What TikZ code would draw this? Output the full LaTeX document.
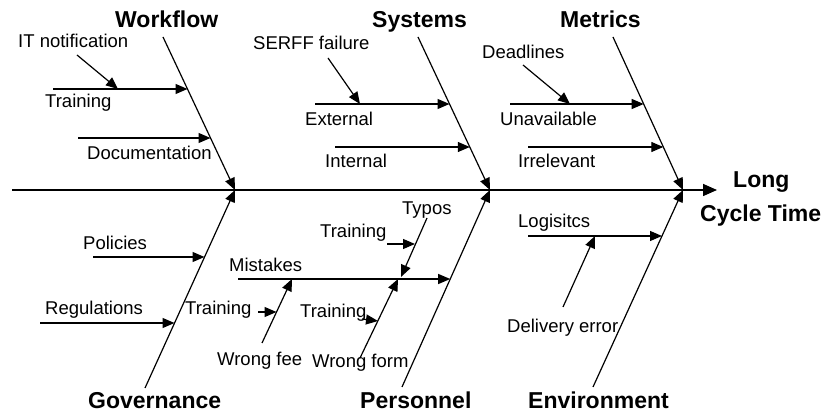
\documentclass[tikz,border=0pt]{standalone}
\usepackage{fontspec}
\setmainfont{Liberation Sans}
\usetikzlibrary{arrows.meta}
\tikzset{
  lab/.style={font=\fontsize{18.5}{20}\selectfont, inner sep=0pt, anchor=base west},
  ttl/.style={font=\fontsize{23}{25}\selectfont\bfseries, inner sep=0pt, anchor=base west},
  bone/.style={line width=1.2pt, -{Triangle[length=12pt,width=10pt]}},
  spine/.style={line width=1.6pt, -{Triangle[length=14pt,width=12pt]}},
}
\begin{document}
\begin{tikzpicture}[x=1pt,y=-1pt]
\useasboundingbox[fill=white] (0,0) rectangle (836,414);
% coordinates
\coordinate (s0) at (12,190);   \coordinate (s1) at (717,190);
\coordinate (wA) at (163,37);   \coordinate (wB) at (235,190);
\coordinate (yA) at (418,37);   \coordinate (yB) at (490,190);
\coordinate (mA) at (613,37);   \coordinate (mB) at (683,190);
\coordinate (gA) at (145,388);  \coordinate (gB) at (235,190);
\coordinate (pA) at (402,387);  \coordinate (pB) at (490,190);
\coordinate (eA) at (593,387);  \coordinate (eB) at (683,190);
% sub causes
\coordinate (trA) at (53,89);   \coordinate (trB) at (187.5,89);
\coordinate (doA) at (78,138);  \coordinate (doB) at (210.5,138);
\coordinate (exA) at (315,104); \coordinate (exB) at (449.5,104);
\coordinate (inA) at (335,147); \coordinate (inB) at (469.8,147);
\coordinate (unA) at (510,104); \coordinate (unB) at (643.7,104);
\coordinate (irA) at (528,147); \coordinate (irB) at (663.3,147);
\coordinate (poA) at (93,257);  \coordinate (poB) at (204.5,257);
\coordinate (reA) at (40,323);  \coordinate (reB) at (174.5,323);
\coordinate (miA) at (238,279); \coordinate (miB) at (450.2,279);
\coordinate (loA) at (528,236); \coordinate (loB) at (662,236);
% sub-sub causes
\coordinate (itA) at (77,55);   \coordinate (itB) at (118,89);
\coordinate (seA) at (328,58);  \coordinate (seB) at (360,104);
\coordinate (deA) at (523,65);  \coordinate (deB) at (570,104);
\coordinate (dlA) at (563,307); \coordinate (dlB) at (595,236);
\coordinate (wfA) at (262,343); \coordinate (wfB) at (292,279);
\coordinate (wmA) at (360,358); \coordinate (wmB) at (398,279);
\coordinate (tyA) at (427,218); \coordinate (tyB) at (401,277);
\coordinate (t1A) at (258,312); \coordinate (t1B) at (276.5,312);
\coordinate (t2A) at (362,319); \coordinate (t2B) at (378,321);
\coordinate (t3A) at (387,244); \coordinate (t3B) at (415,244);

% spine and bones
\draw[spine] (s0) -- (s1);
\draw[bone] (wA) -- (wB);
\draw[bone] (yA) -- (yB);
\draw[bone] (mA) -- (mB);
\draw[bone] (gA) -- (gB);
\draw[bone] (pA) -- (pB);
\draw[bone] (eA) -- (eB);
\foreach \p in {tr,do,ex,in,un,ir,po,re,mi,lo,it,se,de,dl,wf,wm,ty,t1,t2,t3}
  \draw[bone] (\p A) -- (\p B);

% titles
\node[ttl] (nWork) at (115,28) {Workflow};
\node[ttl] (nSys)  at (372,28) {Systems};
\node[ttl] (nMet)  at (560,28) {Metrics};
\node[ttl] (nGov)  at (88,408) {Governance};
\node[ttl] (nPer)  at (360,408) {Personnel};
\node[ttl] (nEnv)  at (528,408) {Environment};
\node[ttl] (nLong) at (733,188) {Long};
\node[ttl] (nCyc)  at (700,222) {Cycle Time};

% labels
\node[lab] (lIT)  at (18,48)   {IT notification};
\node[lab] (lTr1) at (45,108)  {Training};
\node[lab] (lDoc) at (87,160)  {Documentation};
\node[lab] (lSer) at (253,50)  {SERFF failure};
\node[lab] (lExt) at (305,126) {External};
\node[lab] (lInt) at (325,168) {Internal};
\node[lab] (lDea) at (482,59)  {Deadlines};
\node[lab] (lUna) at (500,126) {Unavailable};
\node[lab] (lIrr) at (518,168) {Irrelevant};
\node[lab] (lPol) at (83,250)  {Policies};
\node[lab] (lReg) at (45,315)  {Regulations};
\node[lab] (lTr2) at (185,315) {Training};
\node[lab] (lMis) at (229,272) {Mistakes};
\node[lab] (lWfe) at (217,365) {Wrong fee};
\node[lab] (lTr3) at (300,318) {Training};
\node[lab] (lWfo) at (312,367) {Wrong form};
\node[lab] (lTyp) at (402,215) {Typos};
\node[lab] (lTr4) at (320,238) {Training};
\node[lab] (lLog) at (518,228) {Logisitcs};
\node[lab] (lDel) at (507,332) {Delivery error};
\end{tikzpicture}
\end{document}
